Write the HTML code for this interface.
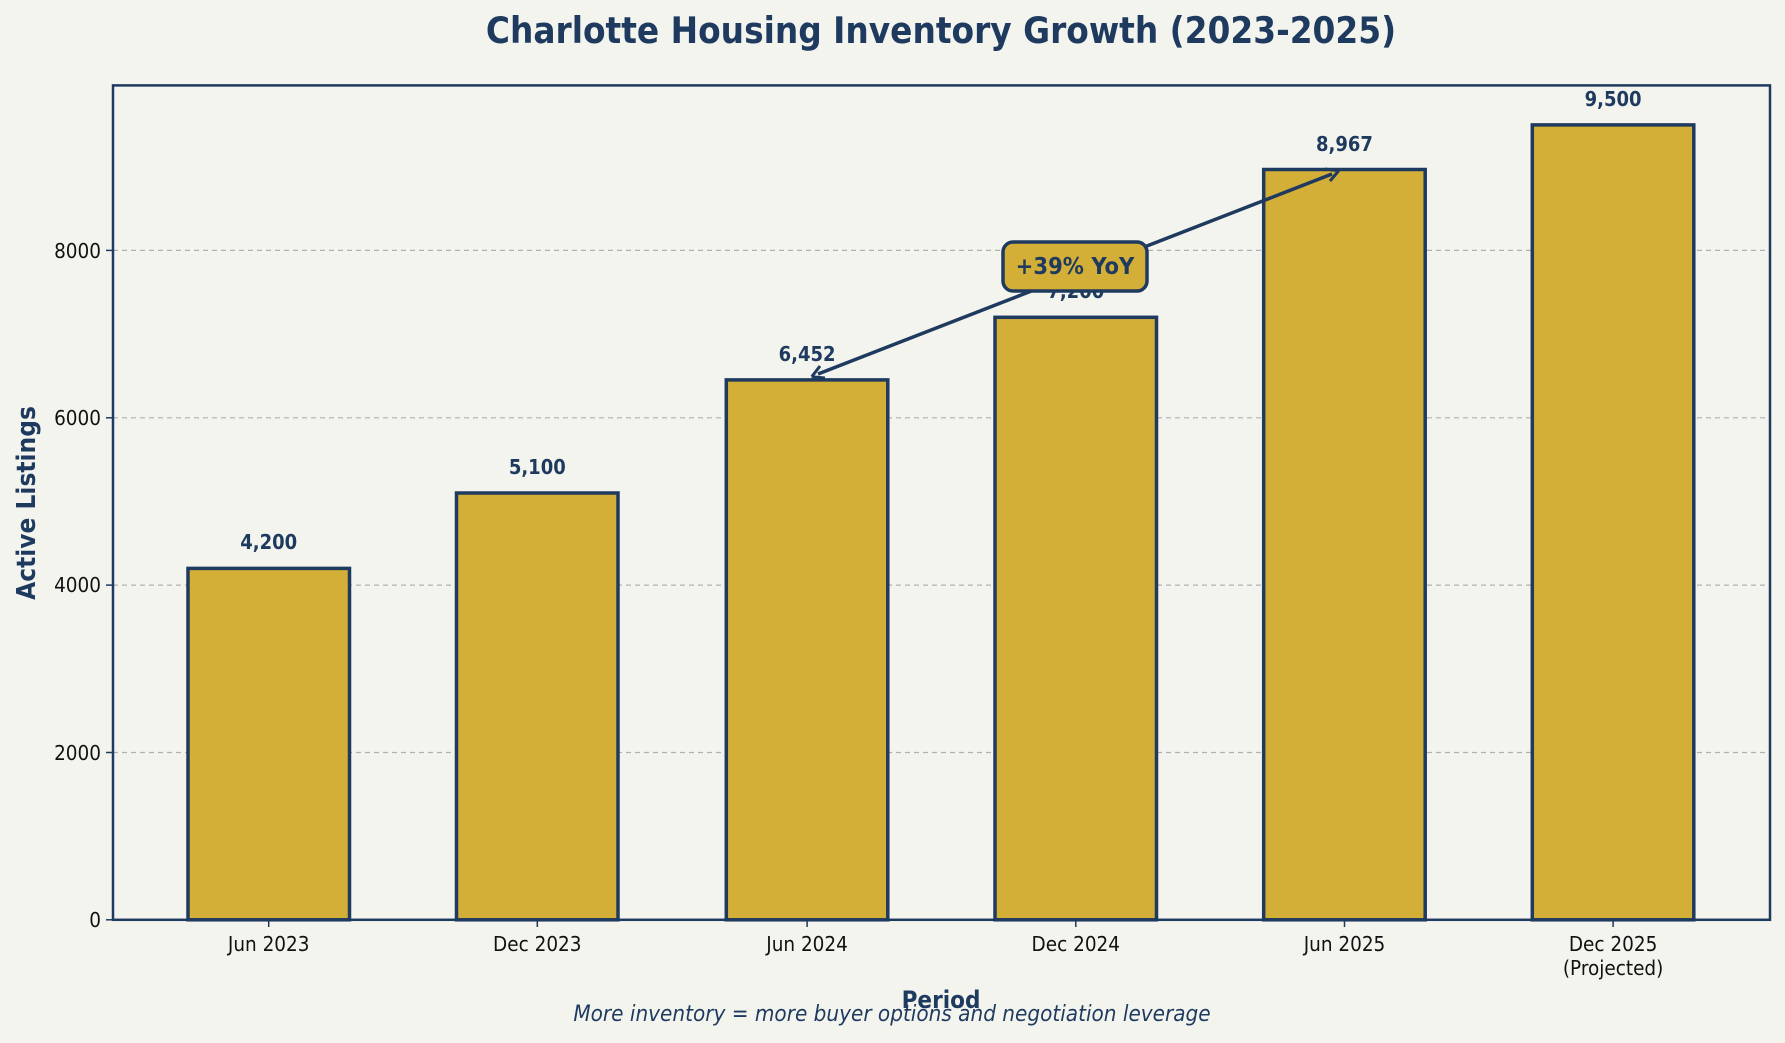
<!DOCTYPE html>
<html><head><meta charset="utf-8"><style>body{margin:0;background:#f4f4ef}svg{display:block}text{font-family:"DejaVu Sans Condensed","Liberation Sans",sans-serif}</style></head><body>
<svg width="1785" height="1043" viewBox="0 0 1785 1043" xmlns="http://www.w3.org/2000/svg">
<rect width="1785" height="1043" fill="#f4f4ef"/>
<text x="941" y="43" text-anchor="middle" font-size="36.5" font-weight="bold" fill="#1e3a5f">Charlotte Housing Inventory Growth (2023-2025)</text>
<g stroke="#b0b0b0" stroke-dasharray="5,4" stroke-width="1.2">
<line x1="113" x2="1770" y1="752.5" y2="752.5"/><line x1="113" x2="1770" y1="585.1" y2="585.1"/><line x1="113" x2="1770" y1="417.8" y2="417.8"/><line x1="113" x2="1770" y1="250.4" y2="250.4"/>
</g>
<g fill="#d4af37" stroke="#1e3a5f" stroke-width="3.5">
<rect x="188" y="568.4" width="161.5" height="351.4"/>
<rect x="456.5" y="493" width="161.5" height="426.8"/>
<rect x="726.3" y="379.9" width="161.5" height="539.9"/>
<rect x="995" y="317.3" width="161.5" height="602.5"/>
<rect x="1263.7" y="169.5" width="161.5" height="750.3"/>
<rect x="1532.3" y="124.9" width="161.5" height="794.9"/>
</g>
<g font-size="20" font-weight="bold" fill="#1e3a5f" text-anchor="middle">
<text x="268.7" y="549">4,200</text><text x="537.3" y="474">5,100</text><text x="807.1" y="361">6,452</text><text x="1075.8" y="298">7,200</text><text x="1344.5" y="151">8,967</text><text x="1613.1" y="106">9,500</text>
</g>
<line x1="1332" y1="174" x2="818" y2="374" stroke="#1e3a5f" stroke-width="3.5"/>
<path d="M1338.7,170.8 L1325,169 M1338.7,170.8 L1330,181" stroke="#1e3a5f" stroke-width="3" fill="none"/>
<path d="M811.7,376.8 L820,366 M811.7,376.8 L825,378" stroke="#1e3a5f" stroke-width="3" fill="none"/>
<rect x="1003" y="242" width="144" height="49" rx="10" fill="#d4af37" stroke="#1e3a5f" stroke-width="3.5"/>
<text x="1075" y="274" text-anchor="middle" font-size="23.5" font-weight="bold" fill="#1e3a5f">+39% YoY</text>
<rect x="113" y="85.4" width="1657" height="834.4" fill="none" stroke="#1e3a5f" stroke-width="2.5"/>
<g stroke="#1e3a5f" stroke-width="1.5">
<line x1="106" x2="113" y1="919.8" y2="919.8"/><line x1="106" x2="113" y1="752.5" y2="752.5"/><line x1="106" x2="113" y1="585.1" y2="585.1"/><line x1="106" x2="113" y1="417.8" y2="417.8"/><line x1="106" x2="113" y1="250.4" y2="250.4"/>
<line x1="268.7" x2="268.7" y1="920" y2="927"/><line x1="537.3" x2="537.3" y1="920" y2="927"/><line x1="807.1" x2="807.1" y1="920" y2="927"/><line x1="1075.8" x2="1075.8" y1="920" y2="927"/><line x1="1344.5" x2="1344.5" y1="920" y2="927"/><line x1="1613.1" x2="1613.1" y1="920" y2="927"/>
</g>
<g font-size="20.5" fill="#111" text-anchor="end">
<text x="101" y="927">0</text><text x="101" y="760">2000</text><text x="101" y="592">4000</text><text x="101" y="425">6000</text><text x="101" y="258">8000</text>
</g>
<g font-size="20.5" fill="#111" text-anchor="middle">
<text x="268.7" y="951">Jun 2023</text><text x="537.3" y="951">Dec 2023</text><text x="807.1" y="951">Jun 2024</text><text x="1075.8" y="951">Dec 2024</text><text x="1344.5" y="951">Jun 2025</text><text x="1613.1" y="951">Dec 2025</text><text x="1613.1" y="975">(Projected)</text>
</g>
<text x="941" y="1008" text-anchor="middle" font-size="24" font-weight="bold" fill="#1e3a5f">Period</text>
<text x="892" y="1021" text-anchor="middle" font-size="22.3" font-style="italic" fill="#1e3a5f">More inventory = more buyer options and negotiation leverage</text>
<text transform="translate(35,503) rotate(-90)" text-anchor="middle" font-size="26" font-weight="bold" fill="#1e3a5f">Active Listings</text>
</svg>
</body></html>
